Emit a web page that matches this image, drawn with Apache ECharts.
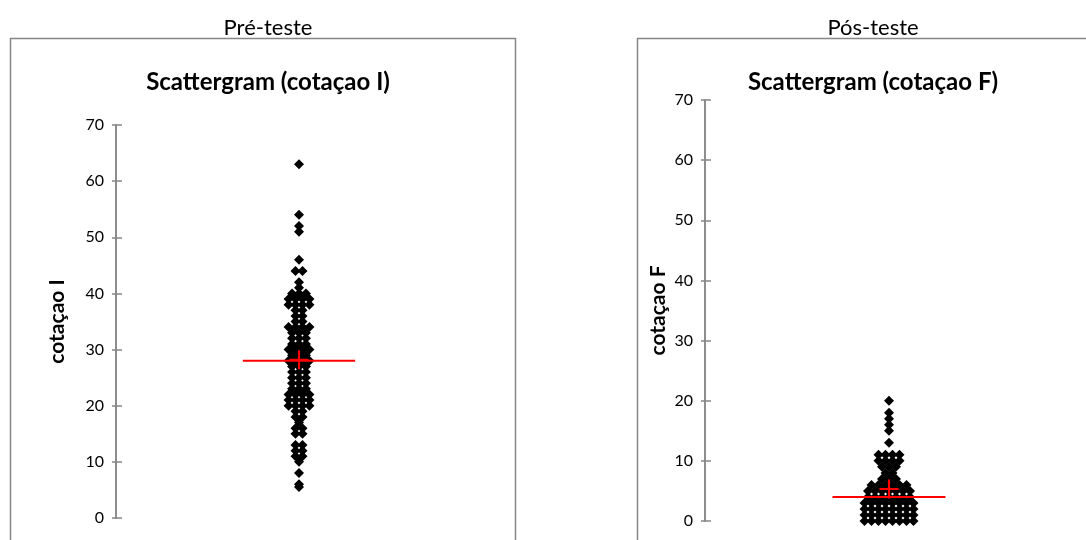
<!DOCTYPE html>
<html>
<head>
<meta charset="utf-8">
<script src="https://cdn.jsdelivr.net/npm/echarts@6/dist/echarts.min.js"></script>
<style>html,body{margin:0;padding:0;background:#fff}#c{width:1086px;height:540px}</style>
</head>
<body>
<div id="c"></div>
<script>
// ---- data ----
var panelTitles = ['Pré-teste', 'Pós-teste'];
var chartTitles = ['Scattergram (cotaçao I)', 'Scattergram (cotaçao F)'];
var axisNames = ['cotaçao I', 'cotaçao F'];
var yTicks = [0, 10, 20, 30, 40, 50, 60, 70];
var cotacaoI = [63, 54, 52, 51, 46, 44, 44, 42,
  41, 40, 40, 40, 39, 39, 39, 39, 38, 38, 38, 38, 37, 37, 36, 36, 35, 35,
  34, 34, 34, 34, 33, 33, 33, 32, 32, 32, 31, 31, 31, 30, 30, 30, 30,
  29, 29, 29, 28, 28, 28, 28, 27, 27, 27, 26, 26, 26, 25, 25, 25,
  24, 24, 24, 23, 23, 23, 22, 22, 22, 22, 21, 21, 21, 21, 20, 20, 20, 20,
  19, 19, 18, 18, 17, 16, 16, 15, 15, 13, 13, 12, 12, 11, 11, 10, 8, 6, 5.5];
var cotacaoF = [20, 18, 17, 16, 15, 13,
  11, 11, 11, 11, 10, 10, 10, 10, 9, 9, 9, 8, 8, 7, 7, 7,
  6, 6, 6, 6, 6, 6, 5, 5, 5, 5, 5, 5, 5, 4, 4, 4, 4, 4, 4, 4,
  3, 3, 3, 3, 3, 3, 3, 3, 2, 2, 2, 2, 2, 2, 2, 2,
  1, 1, 1, 1, 1, 1, 1, 1, 0, 0, 0, 0, 0, 0, 0, 0];

// ---- helpers ----
var SPREAD = 0.038;   // horizontal offset between tied points (x-axis units)
function swarm(vals) {
  var groups = {};
  vals.forEach(function (v) { (groups[v] = groups[v] || []).push(v); });
  var out = [];
  Object.keys(groups).forEach(function (k) {
    var g = groups[k], n = g.length;
    g.forEach(function (v, i) { out.push([(i - (n - 1) / 2) * SPREAD, v]); });
  });
  return out;
}
function mean(a) { return a.reduce(function (s, v) { return s + v; }, 0) / a.length; }
function median(a) {
  var s = a.slice().sort(function (x, y) { return x - y; }), n = s.length;
  return n % 2 ? s[(n - 1) / 2] : (s[n / 2 - 1] + s[n / 2]) / 2;
}

var FONT = 'Lato, "Open Sans", sans-serif';
var AX = '#868686';
var grids = [
  { left: 116, top: 125, width: 366, height: 393 },
  { left: 705, top: 100, width: 368, height: 421 }
];
var datasets = [cotacaoI, cotacaoF];
var nameGaps = [48, 36];

var xAxes = [], yAxes = [], series = [];
grids.forEach(function (g, i) {
  xAxes.push({ gridIndex: i, type: 'value', min: -1, max: 1, show: false });
  yAxes.push({
    gridIndex: i, type: 'value', min: 0, max: 70, interval: 10, position: 'left',
    name: axisNames[i], nameLocation: 'middle', nameGap: nameGaps[i],
    nameTextStyle: { fontFamily: FONT, fontWeight: 'bold', fontSize: 21, color: '#000' },
    axisLine: { show: true, onZero: false, lineStyle: { color: AX, width: 1.5 } },
    axisTick: { show: true, length: 4, lineStyle: { color: AX, width: 1.5 } },
    axisLabel: { fontFamily: FONT, fontSize: 16, color: '#000', margin: 12,
      formatter: function (v) { return yTicks.indexOf(v) >= 0 ? String(v) : ''; } },
    splitLine: { show: false }
  });
  yAxes.push({
    gridIndex: i, type: 'value', min: 0, max: 70, interval: 10, position: 'left',
    axisLine: { show: true, onZero: false, lineStyle: { color: AX, width: 1.5 } },
    axisTick: { show: true, inside: true, length: 6, lineStyle: { color: AX, width: 1.5 } },
    axisLabel: { show: false }, splitLine: { show: false }
  });
  var vals = datasets[i];
  series.push({
    type: 'scatter', xAxisIndex: i, yAxisIndex: 2 * i, data: swarm(vals),
    symbol: 'diamond', symbolSize: [10, 10], itemStyle: { color: '#000', opacity: 1 }, silent: true, z: 2
  });
  var med = median(vals);
  series.push({
    type: 'line', xAxisIndex: i, yAxisIndex: 2 * i, data: [[-0.307, med], [0.307, med]],
    symbol: 'none', lineStyle: { color: '#ff0000', width: 2 }, silent: true, z: 3
  });
  series.push({
    type: 'scatter', xAxisIndex: i, yAxisIndex: 2 * i, data: [[0, mean(vals)]],
    symbol: 'path://M8,0 H10 V8 H18 V10 H10 V18 H8 V10 H0 V8 H8 Z', symbolSize: 19,
    itemStyle: { color: '#ff0000', opacity: 1 }, silent: true, z: 4
  });
});

var chart = echarts.init(document.getElementById('c'), null, { renderer: 'canvas' });
chart.setOption({
  backgroundColor: '#fff',
  animation: false,
  title: [
    { text: panelTitles[0], left: 263, top: 12, textAlign: 'center',
      textStyle: { fontFamily: FONT, fontSize: 22, fontWeight: 'normal', color: '#000' } },
    { text: panelTitles[1], left: 868, top: 12, textAlign: 'center',
      textStyle: { fontFamily: FONT, fontSize: 22, fontWeight: 'normal', color: '#000' } },
    { text: chartTitles[0], left: 263, top: 65, textAlign: 'center',
      textStyle: { fontFamily: FONT, fontSize: 24, fontWeight: 'bold', color: '#000' } },
    { text: chartTitles[1], left: 868, top: 65, textAlign: 'center',
      textStyle: { fontFamily: FONT, fontSize: 24, fontWeight: 'bold', color: '#000' } }
  ],
  graphic: [
    { type: 'rect', shape: { x: 10.5, y: 38.5, width: 505, height: 520 },
      style: { fill: 'none', stroke: AX, lineWidth: 1.5 }, z: -1 },
    { type: 'rect', shape: { x: 637.5, y: 38.5, width: 470, height: 520 },
      style: { fill: 'none', stroke: AX, lineWidth: 1.5 }, z: -1 }
  ],
  grid: grids,
  xAxis: xAxes,
  yAxis: yAxes,
  series: series
});
</script>
</body>
</html>
